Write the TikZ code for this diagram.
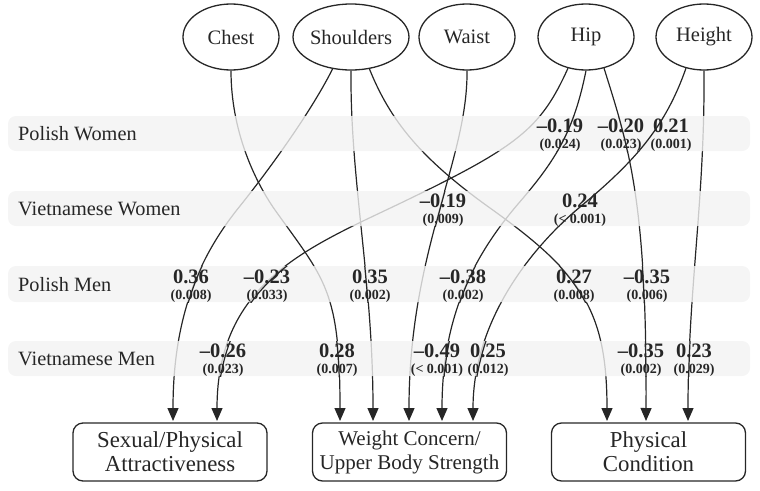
\documentclass[tikz,border=0pt]{standalone}
\usepackage{fontspec}
\setmainfont{Liberation Serif}
\usetikzlibrary{arrows.meta,shapes.geometric}
\definecolor{ink}{HTML}{262626}
\definecolor{bandfill}{HTML}{F2F2F2}
\tikzset{
  measure/.style={ellipse, draw=ink, line width=1.3pt, minimum width=96pt,
    minimum height=66pt, inner sep=0pt, font=\fontsize{20.5}{24}\selectfont},
  factor/.style={rectangle, rounded corners=10pt, draw=ink, line width=1.3pt,
    minimum width=194pt, minimum height=58pt, align=center,
    font=\fontsize{22.8}{24}\selectfont},
  group/.style={anchor=base west, inner sep=0pt, font=\fontsize{20.3}{24}\selectfont},
  band/.style={fill=bandfill, opacity=0.8, rounded corners=8pt},
  link/.style={draw=ink, line width=1.2pt},
  tip/.style={-{Triangle[length=13pt,width=11pt]}},
  coef/.style={anchor=base, inner sep=0pt, font=\fontsize{20.5}{20}\selectfont\bfseries},
  pval/.style={anchor=base, inner sep=0pt, font=\fontsize{14}{14}\selectfont\bfseries}
}
% one coefficient with its p value
\newcommand\coefat[5]{%
  \node[coef] (#1) at (#2,#3) {#4};
  \node[pval] (#1p) at (#2,#3+16.5) {#5};}
% the bands
\def\bandPW{(8,116) rectangle (750,151)}
\def\bandVW{(8,191) rectangle (750,226)}
\def\bandPM{(8,266) rectangle (750,302)}
\def\bandVM{(8,341) rectangle (750,376)}
% the links
\def\pChest{(chest.south) .. controls (231,130) and (254,180) .. (275,210) .. controls (325,280) and (340,290) .. (wc1)}
\def\pShL{(shoulders.240) .. controls (312,110) and (272,166) .. (240,206) .. controls (203.5,251) and (173,310) .. (sp1)}
\def\pShM{(shoulders.south) .. controls (350,180) and (373,280) .. (wc2)}
\def\pShR{(shoulders.300) .. controls (390,120) and (420,158) .. (490,208) .. controls (581,273) and (607,310) .. (pc1)}
\def\pWaist{(waist.south) .. controls (468,160) and (409,250) .. (wc3)}
\def\pHipL{(hip.240) .. controls (541,128) and (519,146) .. (405,201) .. controls (312,246) and (217,280) .. (sp2)}
\def\pHipM{(hip.south) .. controls (574,130) and (557,159) .. (518,204) .. controls (471,259) and (442,320) .. (wc4)}
\def\pHipR{(hip.300) .. controls (629,148) and (647,200) .. (pc2)}
\def\pHtL{(height.240) .. controls (665,128) and (634,162) .. (580,207) .. controls (532,247) and (473,320) .. (wc5)}
\def\pHtR{(height.south) .. controls (705,200) and (688,290) .. (pc3)}

\begin{document}
\begin{tikzpicture}[x=1pt, y=-1pt, every node/.style={text=ink}]
\useasboundingbox (0,0) rectangle (760,490);
% body measures
\node[measure] (chest) at (231,37) {Chest};
\node[measure] (shoulders) at (351,37) {Shoulders};
\node[measure] (waist) at (467,37) {Waist};
\node[measure] (hip) at (586,37) {Hip};
\node[measure] (height) at (704,37) {Height};
% factors
\node[factor] (sexual) at (170,452) {Sexual/Physical\\Attractiveness};
\node[factor, font=\fontsize{21}{24}\selectfont] (weight) at (409.5,452) {Weight Concern/\\Upper Body Strength};
\node[factor] (physical) at (648.5,452) {Physical\\Condition};
% arrow ends
\coordinate (sp1) at (173,421);
\coordinate (sp2) at (217,421);
\coordinate (wc1) at (340,421);
\coordinate (wc2) at (373,421);
\coordinate (wc3) at (409,421);
\coordinate (wc4) at (442,421);
\coordinate (wc5) at (473,421);
\coordinate (pc1) at (607,421);
\coordinate (pc2) at (646,421);
\coordinate (pc3) at (688,421);
% links
\foreach \p in {\pChest,\pShL,\pShM,\pShR,\pWaist,\pHipL,\pHipM,\pHipR,\pHtL,\pHtR}
  \draw[link,tip] \p;
% bands over the links
\foreach \b in {\bandPW,\bandVW,\bandPM,\bandVM}
  \fill[band] \b;
% links stay dark where they carry a value
\foreach \p/\b in {\pHipM/\bandPW,\pHipR/\bandPW,\pHtL/\bandPW,
    \pWaist/\bandVW,\pHtL/\bandVW,
    \pShL/\bandPM,\pHipL/\bandPM,\pShM/\bandPM,\pHipM/\bandPM,\pShR/\bandPM,\pHipR/\bandPM,
    \pHipL/\bandVM,\pChest/\bandVM,\pHipM/\bandVM,\pHtL/\bandVM,\pHipR/\bandVM,\pHtR/\bandVM}{
  \begin{scope}
    \clip \b;
    \draw[link] \p;
  \end{scope}}
% groups
\node[group] (pw) at (18,140.5) {Polish Women};
\node[group] (vw) at (18,215.5) {Vietnamese Women};
\node[group] (pm) at (18,291) {Polish Men};
\node[group] (vm) at (18,365.5) {Vietnamese Men};
% coefficients
\coefat{pwHipM}{560}{132}{\textendash0.19}{(0.024)}
\coefat{pwHipR}{621}{132}{\textendash0.20}{(0.023)}
\coefat{pwHtL}{671}{132}{0.21}{(0.001)}
\coefat{vwWaist}{443}{207}{\textendash0.19}{(0.009)}
\coefat{vwHtL}{580}{207}{0.24}{(< 0.001)}
\coefat{pmShL}{191}{283}{0.36}{(0.008)}
\coefat{pmHipL}{267}{283}{\textendash0.23}{(0.033)}
\coefat{pmShM}{370}{283}{0.35}{(0.002)}
\coefat{pmHipM}{463}{283}{\textendash0.38}{(0.002)}
\coefat{pmShR}{574}{283}{0.27}{(0.008)}
\coefat{pmHipR}{647}{283}{\textendash0.35}{(0.006)}
\coefat{vmHipL}{223}{357}{\textendash0.26}{(0.023)}
\coefat{vmChest}{337}{357}{0.28}{(0.007)}
\coefat{vmHipM}{437}{357}{\textendash0.49}{(< 0.001)}
\coefat{vmHtL}{488}{357}{0.25}{(0.012)}
\coefat{vmHipR}{641}{357}{\textendash0.35}{(0.002)}
\coefat{vmHtR}{694}{357}{0.23}{(0.029)}
\end{tikzpicture}
\end{document}
